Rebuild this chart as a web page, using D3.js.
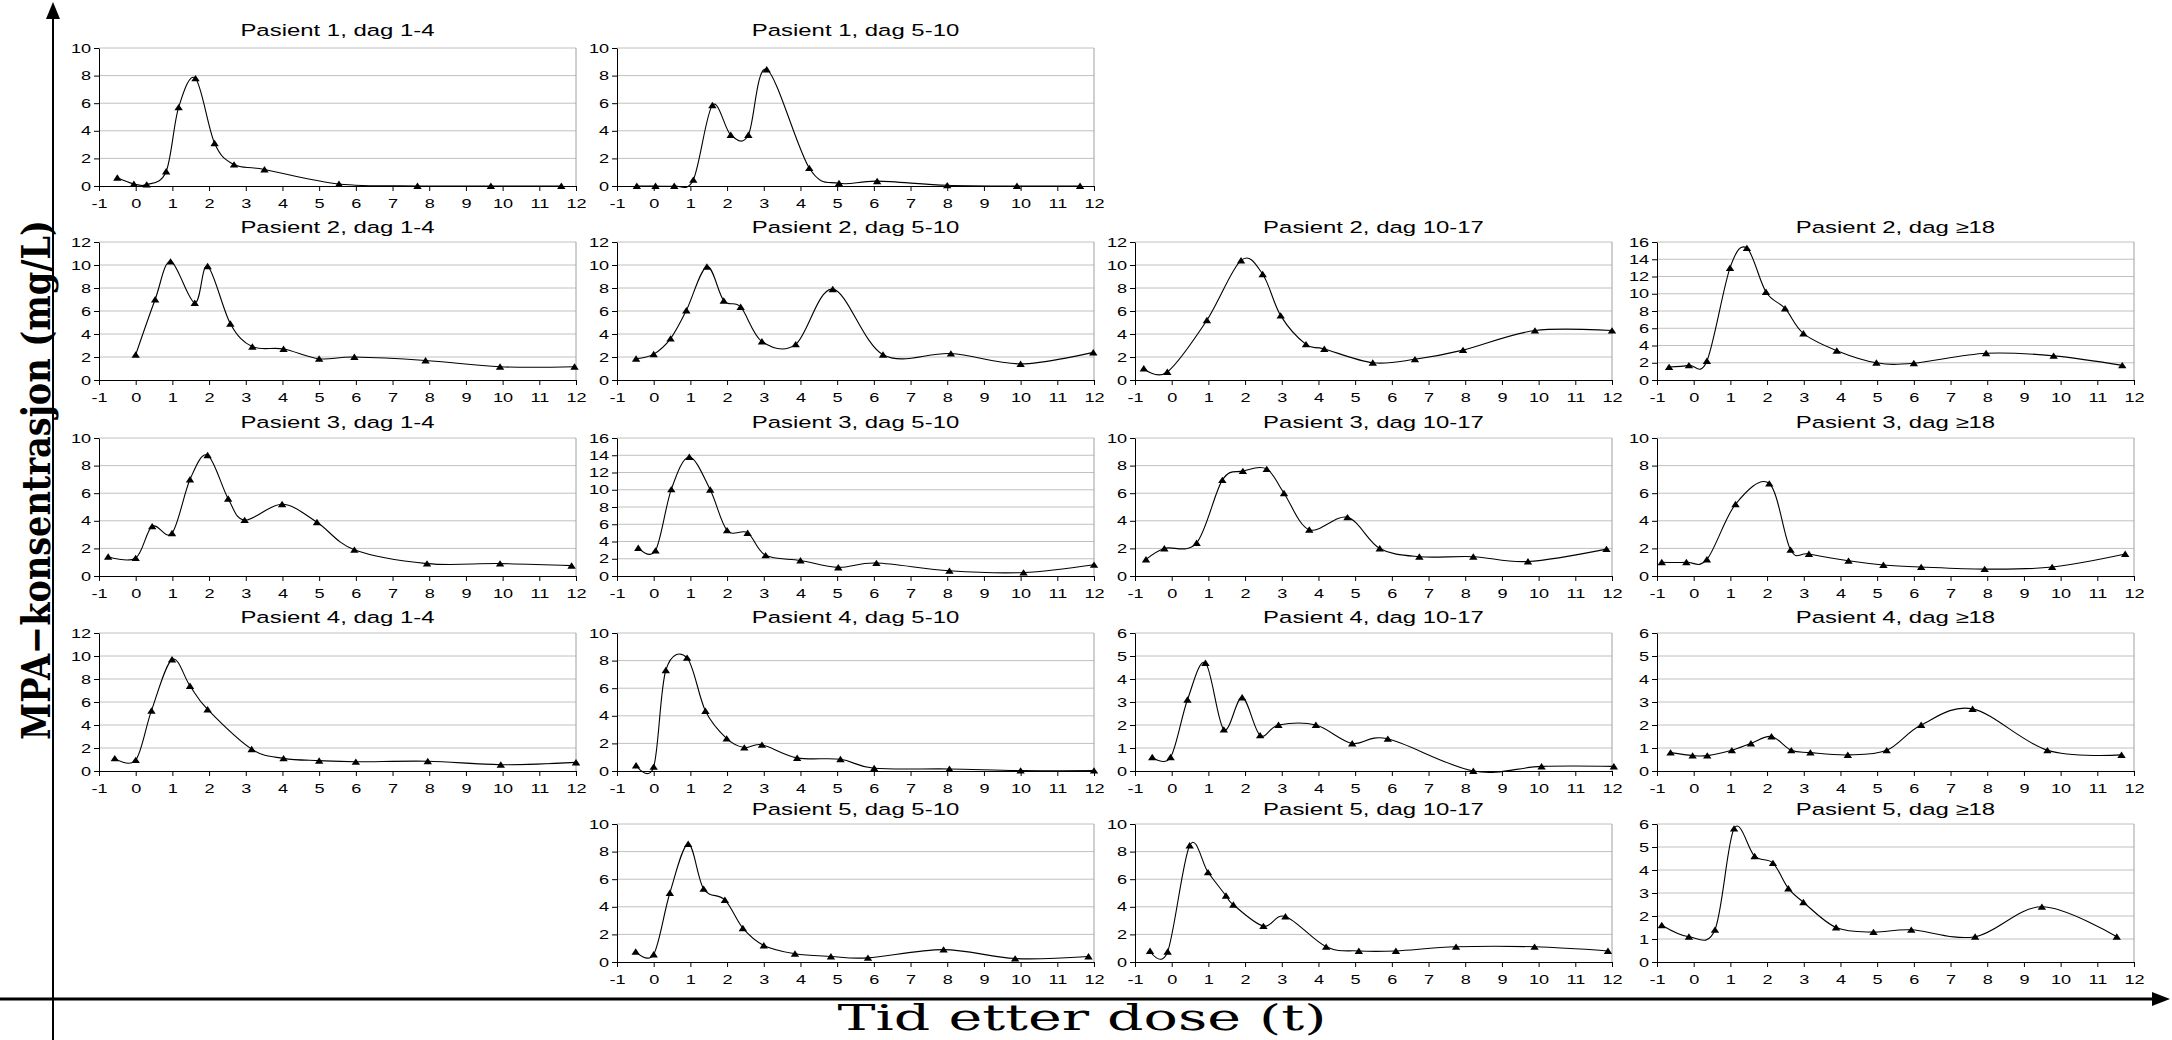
<!DOCTYPE html>
<html>
<head>
<meta charset="utf-8">
<script src="https://cdn.jsdelivr.net/npm/d3@7"></script>
<style>
  body { margin: 0; background: #fff; }
  svg { display: block; }
</style>
</head>
<body>
<svg id="chart" width="2172" height="1040"></svg>
<script>
// ---- data: [time after dose (h), MPA concentration (mg/L)] ----
var p1_d1_4   = [[-0.5,0.6],[-0.05,0.15],[0.3,0.1],[0.83,1.05],[1.17,5.7],[1.63,7.8],[2.15,3.1],[2.68,1.55],[3.51,1.2],[5.54,0.15],[7.68,0],[9.68,0],[11.6,0]];
var p1_d5_10  = [[-0.46,0],[0.05,0],[0.56,0],[1.08,0.45],[1.6,5.85],[2.1,3.7],[2.58,3.7],[3.08,8.45],[4.24,1.3],[5.05,0.2],[6.09,0.35],[8,0.05],[9.9,0],[11.62,0]];
var p2_d1_4   = [[0,2.2],[0.53,7.0],[0.95,10.3],[1.61,6.7],[1.96,9.9],[2.58,4.9],[3.18,2.9],[4.03,2.7],[5,1.85],[5.96,2.0],[7.9,1.7],[9.93,1.15],[11.96,1.15]];
var p2_d5_10  = [[-0.48,1.85],[0,2.25],[0.46,3.6],[0.89,6.05],[1.45,9.85],[1.91,6.9],[2.37,6.35],[2.95,3.35],[3.87,3.1],[4.88,7.9],[6.25,2.2],[8.1,2.3],[10,1.4],[11.98,2.4]];
var p2_d10_17 = [[-0.76,1.0],[-0.12,0.7],[0.96,5.2],[1.89,10.4],[2.48,9.2],[2.97,5.6],[3.66,3.1],[4.16,2.7],[5.48,1.5],[6.63,1.8],[7.94,2.6],[9.9,4.3],[12,4.3]];
var p2_d18    = [[-0.67,1.5],[-0.13,1.7],[0.36,2.2],[0.99,13.0],[1.45,15.3],[1.97,10.2],[2.49,8.3],[2.99,5.4],[3.9,3.4],[4.98,2.0],[6.0,1.95],[7.97,3.1],[9.81,2.8],[11.68,1.7]];
var p3_d1_4   = [[-0.75,1.4],[0,1.3],[0.45,3.6],[0.99,3.1],[1.48,7.0],[1.96,8.75],[2.52,5.6],[2.97,4.05],[3.99,5.2],[4.94,3.9],[5.96,1.9],[7.94,0.9],[9.93,0.9],[11.88,0.75]];
var p3_d5_10  = [[-0.42,3.25],[0.05,2.95],[0.48,10.05],[0.97,13.8],[1.54,10.0],[2.0,5.3],[2.56,5.0],[3.05,2.4],[4.0,1.8],[5.03,1.0],[6.07,1.5],[8.06,0.6],[10.08,0.4],[12,1.3]];
var p3_d10_17 = [[-0.7,1.2],[-0.2,2.0],[0.68,2.4],[1.38,6.95],[1.94,7.6],[2.59,7.75],[3.06,6.0],[3.75,3.35],[4.79,4.25],[5.67,2.0],[6.75,1.4],[8.22,1.4],[9.71,1.05],[11.85,1.95]];
var p3_d18    = [[-0.87,1.0],[-0.2,1.0],[0.36,1.2],[1.14,5.2],[2.06,6.7],[2.64,1.9],[3.14,1.6],[4.22,1.1],[5.17,0.8],[6.2,0.65],[7.93,0.5],[9.77,0.65],[11.76,1.6]];
var p4_d1_4   = [[-0.57,1.1],[0,0.95],[0.43,5.25],[0.99,9.7],[1.48,7.4],[1.96,5.35],[3.16,1.9],[4.03,1.1],[5,0.9],[6,0.8],[7.96,0.85],[9.95,0.55],[12,0.75]];
var p4_d5_10  = [[-0.48,0.4],[0,0.3],[0.33,7.3],[0.91,8.2],[1.41,4.35],[1.99,2.35],[2.47,1.7],[2.95,1.9],[3.91,0.95],[5.09,0.85],[6.01,0.2],[8.06,0.15],[10,0.03],[12,0.03]];
var p4_d10_17 = [[-0.53,0.6],[-0.03,0.6],[0.43,3.1],[0.92,4.7],[1.42,1.8],[1.92,3.2],[2.41,1.55],[2.91,2.0],[3.93,2.0],[4.92,1.2],[5.89,1.4],[8.22,0],[10.08,0.2],[12.05,0.2]];
var p4_d18    = [[-0.63,0.8],[-0.03,0.67],[0.37,0.67],[1.04,0.9],[1.56,1.2],[2.12,1.5],[2.66,0.9],[3.18,0.8],[4.2,0.7],[5.26,0.9],[6.2,2.0],[7.6,2.7],[9.64,0.9],[11.66,0.7]];
var p5_d5_10  = [[-0.49,0.75],[0,0.55],[0.44,5.0],[0.94,8.55],[1.36,5.3],[1.94,4.5],[2.43,2.45],[3.0,1.2],[3.85,0.6],[4.83,0.4],[5.84,0.3],[7.9,0.9],[9.85,0.25],[11.85,0.4]];
var p5_d10_17 = [[-0.59,0.8],[-0.11,0.75],[0.49,8.45],[0.99,6.5],[1.48,4.8],[1.68,4.15],[2.5,2.6],[3.1,3.3],[4.21,1.1],[5.1,0.8],[6.11,0.8],[7.75,1.1],[9.89,1.1],[11.89,0.8]];
var p5_d18    = [[-0.87,1.6],[-0.13,1.1],[0.58,1.4],[1.1,5.8],[1.66,4.6],[2.16,4.3],[2.58,3.2],[2.99,2.6],[3.88,1.5],[4.9,1.3],[5.93,1.4],[7.67,1.1],[9.49,2.4],[11.53,1.1]];

var xTicks = [-1,0,1,2,3,4,5,6,7,8,9,10,11,12];

// panel titles, y-axis maximum and step, grid position (row, col)
var titles = ["Pasient 1, dag 1-4","Pasient 1, dag 5-10",
  "Pasient 2, dag 1-4","Pasient 2, dag 5-10","Pasient 2, dag 10-17","Pasient 2, dag \u226518",
  "Pasient 3, dag 1-4","Pasient 3, dag 5-10","Pasient 3, dag 10-17","Pasient 3, dag \u226518",
  "Pasient 4, dag 1-4","Pasient 4, dag 5-10","Pasient 4, dag 10-17","Pasient 4, dag \u226518",
  "Pasient 5, dag 5-10","Pasient 5, dag 10-17","Pasient 5, dag \u226518"];
var series = [p1_d1_4, p1_d5_10,
  p2_d1_4, p2_d5_10, p2_d10_17, p2_d18,
  p3_d1_4, p3_d5_10, p3_d10_17, p3_d18,
  p4_d1_4, p4_d5_10, p4_d10_17, p4_d18,
  p5_d5_10, p5_d10_17, p5_d18];
var yMax  = [10,10, 12,12,12,16, 10,16,10,10, 12,10,6,6, 10,10,6];
var yStep = [2,2, 2,2,2,2, 2,2,2,2, 2,2,1,1, 2,2,1];
var gridRow = [0,0, 1,1,1,1, 2,2,2,2, 3,3,3,3, 4,4,4];
var gridCol = [0,1, 0,1,2,3, 0,1,2,3, 0,1,2,3, 1,2,3];

// ---- layout ----
var svg = d3.select("#chart");
var colX = [99, 617, 1135, 1657],
    rowTop = [48, 242, 438, 633, 824],
    titleBase = [36, 233, 428, 623, 815],
    plotW = 477,
    plotH = 138,
    SX = 1.45; // the original figure is stretched horizontally

var font = "'Liberation Sans', Arial, sans-serif";

// stretched triangle marker
var triangle = {
  draw: function(ctx) {
    ctx.moveTo(0, -3.4);
    ctx.lineTo(4.2, 3.0);
    ctx.lineTo(-4.2, 3.0);
    ctx.closePath();
  }
};

var x = d3.scaleLinear().domain([-1, 12]).range([0, plotW]);

series.forEach(function(data, i) {
  var y = d3.scaleLinear().domain([0, yMax[i]]).range([plotH, 0]);
  var yTicks = d3.range(0, yMax[i] + yStep[i] / 2, yStep[i]);

  var g = svg.append("g")
    .attr("transform", "translate(" + colX[gridCol[i]] + "," + rowTop[gridRow[i]] + ")");

  // gridlines
  g.append("g").selectAll("line")
    .data(yTicks.filter(function(v) { return v > 0; }))
    .enter().append("line")
    .attr("x1", 0).attr("x2", plotW)
    .attr("y1", function(v) { return y(v); })
    .attr("y2", function(v) { return y(v); })
    .attr("stroke", "#c0c0c0")
    .attr("stroke-width", 1);

  // right border of plot area
  g.append("line")
    .attr("x1", plotW).attr("x2", plotW)
    .attr("y1", 0).attr("y2", plotH)
    .attr("stroke", "#a0a0a0");

  // x axis
  var gx = g.append("g")
    .attr("transform", "translate(0," + plotH + ")")
    .call(d3.axisBottom(x).tickValues(xTicks).tickSize(5).tickSizeOuter(0).tickPadding(8)
      .tickFormat(function(d) { return String(d); }));
  gx.attr("font-family", font).attr("font-size", 12.5);
  gx.selectAll(".tick text").attr("transform", "scale(" + SX + ",1)").attr("fill", "#000");

  // y axis
  var gy = g.append("g")
    .call(d3.axisLeft(y).tickValues(yTicks).tickSize(5).tickSizeOuter(0)
      .tickFormat(function(d) { return String(d); }));
  gy.attr("font-family", font).attr("font-size", 12.5);
  gy.selectAll(".tick text")
    .attr("x", -8 / SX)
    .attr("transform", "scale(" + SX + ",1)")
    .attr("fill", "#000");

  // title
  g.append("text")
    .attr("transform", "translate(" + (plotW / 2) + "," + (titleBase[gridRow[i]] - rowTop[gridRow[i]]) + ") scale(" + SX + ",1)")
    .attr("text-anchor", "middle")
    .attr("font-family", font)
    .attr("font-size", 16.5)
    .text(titles[i]);

  // smoothed line
  var line = d3.line()
    .x(function(d) { return x(d[0]); })
    .y(function(d) { return y(d[1]); })
    .curve(d3.curveCardinal.tension(0));

  g.append("path")
    .datum(data)
    .attr("d", line)
    .attr("fill", "none")
    .attr("stroke", "#000")
    .attr("stroke-width", 1.1);

  g.append("g").selectAll("path")
    .data(data)
    .enter().append("path")
    .attr("transform", function(d) { return "translate(" + x(d[0]) + "," + y(d[1]) + ")"; })
    .attr("d", d3.symbol().type(triangle))
    .attr("fill", "#000");
});

// ---- big arrows framing the figure ----
svg.append("line")
  .attr("x1", 53).attr("x2", 53).attr("y1", 1040).attr("y2", 14)
  .attr("stroke", "#000").attr("stroke-width", 2);
svg.append("path")
  .attr("d", "M53,2L46,19L60,19Z").attr("fill", "#000");

svg.append("line")
  .attr("x1", 0).attr("x2", 2156).attr("y1", 999).attr("y2", 999)
  .attr("stroke", "#000").attr("stroke-width", 3);
svg.append("path")
  .attr("d", "M2170,999L2152,992L2152,1006Z").attr("fill", "#000");

// axis titles
svg.append("text")
  .attr("x", 1082).attr("y", 1030)
  .attr("text-anchor", "middle")
  .attr("font-family", "'DejaVu Serif', serif")
  .attr("font-size", 35)
  .attr("textLength", 489)
  .attr("lengthAdjust", "spacingAndGlyphs")
  .text("Tid etter dose (t)");

svg.append("text")
  .attr("transform", "translate(50,480) rotate(-90)")
  .attr("text-anchor", "middle")
  .attr("font-family", "'DejaVu Serif', serif")
  .attr("font-weight", "bold")
  .attr("font-size", 40)
  .attr("textLength", 520)
  .attr("lengthAdjust", "spacingAndGlyphs")
  .text("MPA\u2212konsentrasjon (mg/L)");
</script>
</body>
</html>
